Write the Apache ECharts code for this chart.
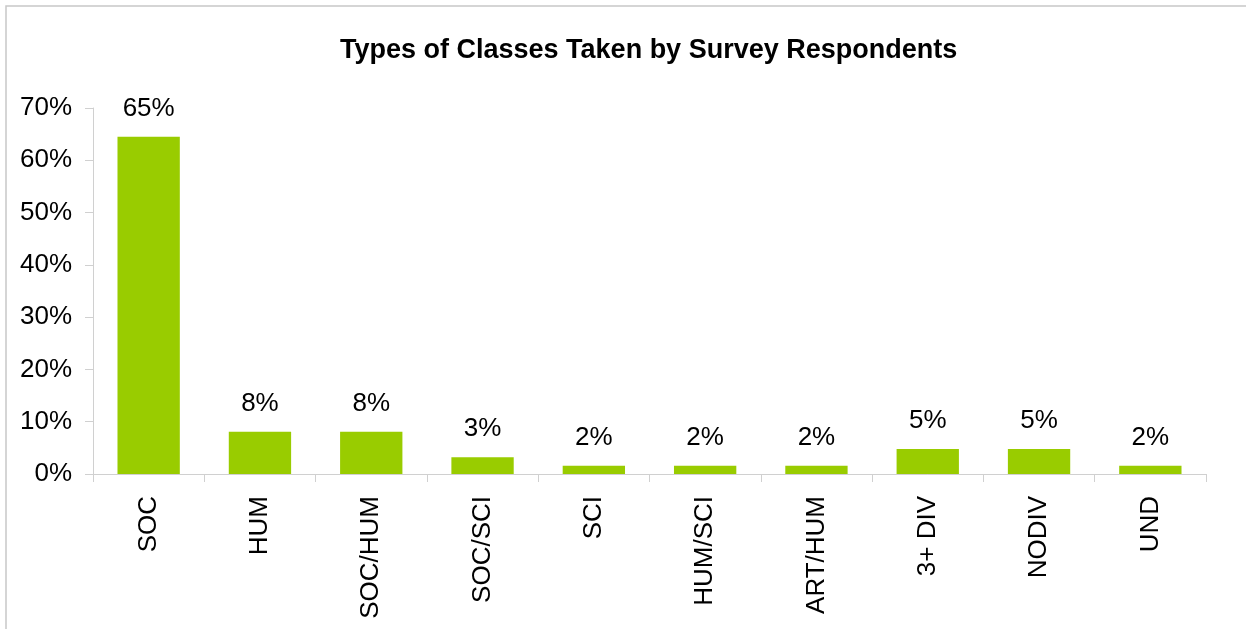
<!DOCTYPE html>
<html>
<head>
<meta charset="utf-8">
<script src="https://cdn.jsdelivr.net/npm/echarts@6/dist/echarts.min.js"></script>
<style>
html,body{margin:0;padding:0;background:#fff;}
#chart{width:1246px;height:629px;}
</style>
</head>
<body>
<div id="chart"></div>
<script>
const categories = ['SOC','HUM','SOC/HUM','SOC/SCI','SCI','HUM/SCI','ART/HUM','3+ DIV','NODIV','UND'];
const values = [64.5, 8.1, 8.1, 3.2, 1.6, 1.6, 1.6, 4.8, 4.8, 1.6];
const yTicks = [0, 10, 20, 30, 40, 50, 60, 70];
const titleText = 'Types of Classes Taken by Survey Respondents';

const chart = echarts.init(document.getElementById('chart'), null, {renderer:'canvas'});
const font = 'Arial, "Liberation Sans", sans-serif';
chart.setOption({
  animation: false,
  backgroundColor: '#fff',
  title: {
    text: titleText,
    left: 335,
    top: 32,
    textStyle: {fontFamily: font, fontWeight: 'bold', fontSize: 27, color: '#000'}
  },
  graphic: [{
    type: 'rect',
    shape: {x: 6, y: 6, width: 1260, height: 640},
    style: {fill: 'none', stroke: '#c8c8c8', lineWidth: 1.5},
    silent: true
  }],
  grid: {left: 93, right: 40, top: 108, bottom: 155, containLabel: false},
  xAxis: {
    type: 'category',
    data: categories,
    axisLine: {lineStyle: {color: '#d0d0d0', width: 1}},
    axisTick: {show: true, alignWithLabel: false, length: 8, lineStyle: {color: '#d0d0d0'}},
    axisLabel: {rotate: 90, margin: 22, fontFamily: font, fontSize: 26, color: '#000', interval: 0}
  },
  yAxis: {
    type: 'value',
    min: yTicks[0],
    max: yTicks[yTicks.length - 1],
    interval: 10,
    splitLine: {show: false},
    axisLine: {show: true, lineStyle: {color: '#d0d0d0', width: 1}},
    axisTick: {show: true, length: 8, inside: false, lineStyle: {color: '#d0d0d0'}},
    axisLabel: {margin: 21, fontFamily: font, fontSize: 26, color: '#000', formatter: v => v + '%'}
  },
  series: [{
    type: 'bar',
    data: values,
    barWidth: '56%',
    itemStyle: {color: '#99cc00'},
    label: {
      show: true,
      position: 'top',
      distance: 15,
      fontFamily: font,
      fontSize: 26,
      color: '#000',
      formatter: p => Math.round(p.value) + '%'
    }
  }]
});
</script>
</body>
</html>
